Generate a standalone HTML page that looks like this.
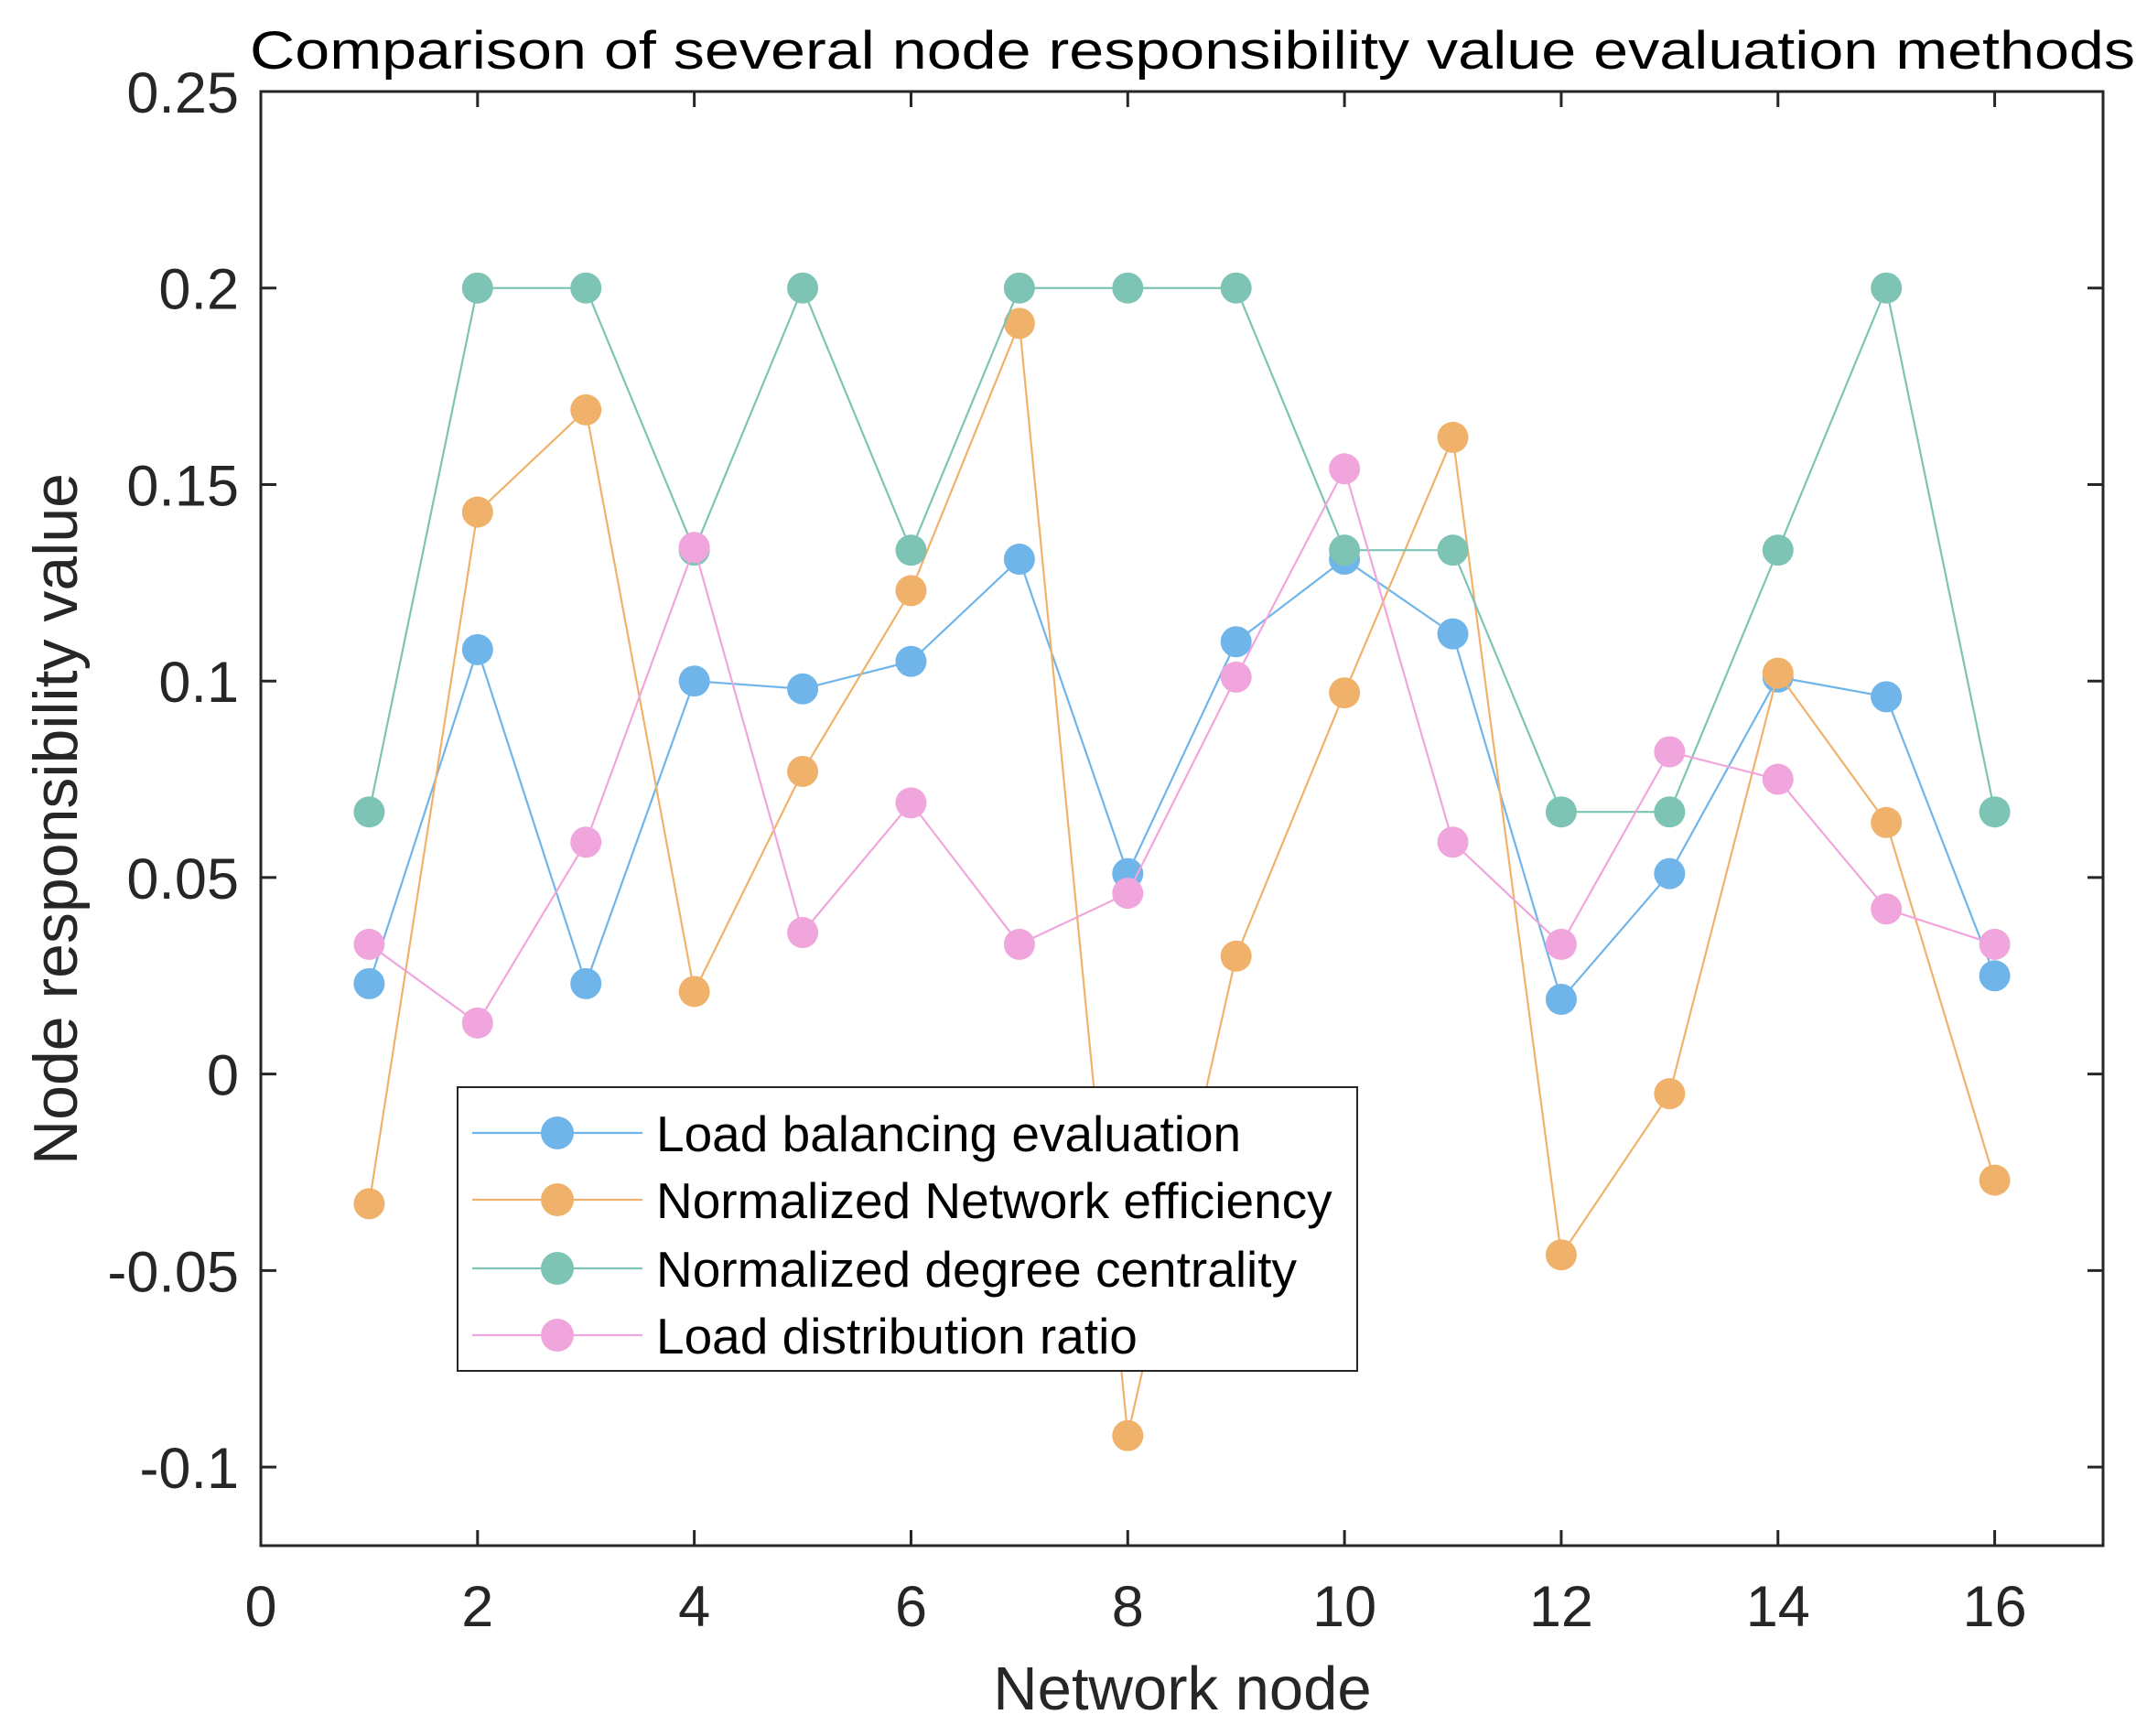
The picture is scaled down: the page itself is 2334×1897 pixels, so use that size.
<!DOCTYPE html>
<html><head><meta charset="utf-8"><style>
body{margin:0;background:#fff}
svg{display:block;font-family:"Liberation Sans",Arial,sans-serif}
</style></head><body>
<svg id="chart" width="2334" height="1897" viewBox="0 0 2334 1897">
<rect width="2334" height="1897" fill="#fff"/>
<g id="plot"></g>
</svg>
<script>
const nodes=[1,2,3,4,5,6,7,8,9,10,11,12,13,14,15,16];
const loadBalancing=[0.023,0.108,0.023,0.1,0.098,0.105,0.131,0.051,0.11,0.131,0.112,0.019,0.051,0.101,0.096,0.025];
const networkEfficiency=[-0.033,0.143,0.169,0.021,0.077,0.123,0.191,-0.092,0.030,0.097,0.162,-0.046,-0.005,0.102,0.064,-0.027];
const degreeCentrality=[0.0667,0.2,0.2,0.1333,0.2,0.1333,0.2,0.2,0.2,0.1333,0.1333,0.0667,0.0667,0.1333,0.2,0.0667];
const loadDistribution=[0.033,0.013,0.059,0.134,0.036,0.069,0.033,0.046,0.101,0.154,0.059,0.033,0.082,0.075,0.042,0.033];
const seriesNames=["Load balancing evaluation","Normalized Network efficiency","Normalized degree centrality","Load distribution ratio"];
const xTicks=[0,2,4,6,8,10,12,14,16];
const yTicks=[-0.1,-0.05,0,0.05,0.1,0.15,0.2,0.25];
const yTickLabels=["-0.1","-0.05","0","0.05","0.1","0.15","0.2","0.25"];

const L=285,R=2298,T=100,B=1689,xMin=0,xMax=17,yMin=-0.12,yMax=0.25;
const sx=v=>L+(v-xMin)/(xMax-xMin)*(R-L);
const sy=v=>B-(v-yMin)/(yMax-yMin)*(B-T);
const NS="http://www.w3.org/2000/svg";
const g=document.getElementById('plot');
function mk(tag,attrs,parent){const e=document.createElementNS(NS,tag);for(const k in attrs)e.setAttribute(k,attrs[k]);(parent||g).appendChild(e);return e;}

xTicks.forEach((t,i)=>{
  const x=sx(t);
  const a=mk('line',{x1:x,x2:x,y1:B,y2:B-17,stroke:'#262626','stroke-width':3});
  
  
  const b=mk('line',{x1:x,x2:x,y1:T,y2:T+17,stroke:'#262626','stroke-width':3});
  
  
  const tx=mk('text',{x:x,y:B+88,'font-size':63,'text-anchor':'middle',fill:'#262626'});
  tx.textContent=String(t);
  
  
});
yTicks.forEach((t,i)=>{
  const y=sy(t);
  const a=mk('line',{x1:L,x2:L+17,y1:y,y2:y,stroke:'#262626','stroke-width':3});
  
  
  const b=mk('line',{x1:R,x2:R-17,y1:y,y2:y,stroke:'#262626','stroke-width':3});
  
  
  const tx=mk('text',{x:L-24,y:y+23,'font-size':63,'text-anchor':'end',fill:'#262626'});
  tx.textContent=yTickLabels[i];
  
  
});
const box=mk('rect',{x:L,y:T,width:R-L,height:B-T,fill:'none',stroke:'#262626','stroke-width':3});



const data=[loadBalancing,networkEfficiency,degreeCentrality,loadDistribution];
const colors=['#6fb5ea','#f0b26a','#7dc4b4','#f0a6dc'];
const keys=['load-balancing','network-efficiency','degree-centrality','load-distribution'];
data.forEach((arr,s)=>{
  const sg=mk('g',{});
  
  
  const pts=arr.map((v,i)=>sx(nodes[i])+','+sy(v)).join(' ');
  const pl=mk('polyline',{points:pts,fill:'none',stroke:colors[s],'stroke-width':2.2},sg);
  
  
  arr.forEach((v,i)=>{
    const c=mk('circle',{cx:sx(nodes[i]),cy:sy(v),r:17,fill:colors[s]},sg);
    
    
  });
});

const lg=mk('g',{});


const lb=mk('rect',{x:500,y:1188,width:983,height:310,fill:'#fff',stroke:'#262626','stroke-width':2},lg);


const ly=[1238,1311,1386,1459];
seriesNames.forEach((n,s)=>{
  const eg=mk('g',{},lg);
  
  
  mk('line',{x1:516,x2:702,y1:ly[s],y2:ly[s],stroke:colors[s],'stroke-width':2.2},eg);
  mk('circle',{cx:609,cy:ly[s],r:18,fill:colors[s]},eg);
  const t=mk('text',{x:717,y:ly[s]+20,'font-size':55,fill:'#000'},eg);
  t.textContent=n;
});

const title=mk('text',{x:1303,y:75,'font-size':58,'text-anchor':'middle',fill:'#000',textLength:2060,lengthAdjust:'spacingAndGlyphs'});
title.textContent='Comparison of several node responsibility value evaluation methods';


const xl=mk('text',{x:1292,y:1868,'font-size':67,'text-anchor':'middle',fill:'#262626'});
xl.textContent='Network node';


const yl=mk('text',{x:0,y:0,'font-size':68,'text-anchor':'middle',fill:'#262626',transform:'translate(84,895) rotate(-90)'});
yl.textContent='Node responsibility value';


</script>
</body></html>
